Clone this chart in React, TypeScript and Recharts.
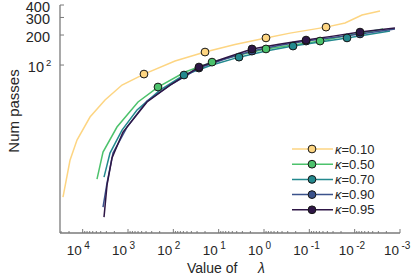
import { LineChart, Line, XAxis, YAxis } from "recharts";

// lambda values (x) and number of passes (y), per kappa
const lam10 = [27170, 19020, 13340, 6890, 3213, 1355, 444, 91.9, 20.0, 4.37, 0.904, 0.267, 0.0428, 0.0163, 0.00688, 0.00276];
const pas10 = [4.74, 11.1, 17.7, 30.1, 44.6, 63, 81.2, 109.7, 135, 160.6, 187, 209, 240, 264, 317, 348];
const mark10 = [6, 8, 10, 12];

const lam50 = [4830, 3557, 1750, 601, 218, 55.2, 14.0, 3.56, 0.904, 0.229, 0.058, 0.0127, 0.00236];
const pas50 = [7.19, 13.4, 23.9, 42.6, 60.2, 85.1, 107, 126, 145, 159, 174, 200, 230];
const mark50 = [4, 6, 8, 10];

const lam70 = [3382, 2495, 1355, 633, 197, 58.2, 14.0, 3.56, 0.904, 0.229, 0.058, 0.01475, 0.00166];
const pas70 = [7.53, 13.1, 22.3, 35.4, 56.1, 79.4, 100, 120, 138, 155, 170, 187, 219];
const mark70 = [5, 7, 9, 11];

const lam90 = [3557, 2904, 2143, 1052, 381, 118, 27.2, 7.24, 1.84, 0.467, 0.118, 0.03, 0.00762, 0.00129];
const pas90 = [3.76, 6.55, 13.1, 23.9, 43.5, 63.0, 93.3, 115, 138, 157, 174, 189, 205, 230];
const mark90 = [6, 8, 10, 12];

const lam95 = [3382, 2904, 2253, 1289, 381, 118, 27.2, 7.24, 1.84, 0.467, 0.118, 0.03, 0.00762, 0.00129];
const pas95 = [2.99, 6.25, 11.7, 21.3, 42.6, 63.0, 95.5, 117.5, 145, 162, 178, 195, 214, 235];
const mark95 = [6, 8, 10, 12];

const kappaLabels = ["0.10", "0.50", "0.70", "0.90", "0.95"];
const colors = ["#fdd582", "#4cc26c", "#23898e", "#3b528b", "#2e1646"];

const yTicks = [100, 200, 300, 400];
const xDecades = [-3, -2, -1, 0, 1, 2, 3, 4];

const xTicks: number[] = [];
xDecades.forEach((d) => {
  for (let k = 1; k <= 9; k++) {
    const v = k * Math.pow(10, d);
    if (v <= 31623) xTicks.push(v);
  }
});

const FONT = "'Liberation Sans', Arial, Helvetica, sans-serif";
const AXIS = "#7a7a7a";
const TEXT = "#262626";

const series = [
  { lam: lam10, pas: pas10, marks: mark10 },
  { lam: lam50, pas: pas50, marks: mark50 },
  { lam: lam70, pas: pas70, marks: mark70 },
  { lam: lam90, pas: pas90, marks: mark90 },
  { lam: lam95, pas: pas95, marks: mark95 },
].map((s, i) => ({
  color: colors[i],
  marks: s.marks,
  data: s.lam.map((x, j) => ({ x, y: s.pas[j] })),
}));

function XTick(props: any) {
  const { x, y, payload } = props;
  const e = Math.log10(payload.value);
  const major = Math.abs(e - Math.round(e)) < 1e-6;
  if (!major) {
    return <line x1={x} x2={x} y1={y} y2={y - 2} stroke={AXIS} strokeWidth={1} />;
  }
  return (
    <g fontFamily={FONT} fill={TEXT}>
      <line x1={x} x2={x} y1={y} y2={y - 4} stroke={AXIS} strokeWidth={1} />
      <text x={x - 1} y={y + 22} textAnchor="end" fontSize={13.5}>
        10
      </text>
      <text x={x + 1.5} y={y + 16} fontSize={10}>
        {Math.round(e)}
      </text>
    </g>
  );
}

function YTick(props: any) {
  const { x, y, payload } = props;
  const v = payload.value;
  return (
    <g fontFamily={FONT} fill={TEXT}>
      <line x1={x} x2={x + 4} y1={y} y2={y} stroke={AXIS} strokeWidth={1} />
      {v === 100 ? (
        <g>
          <text x={x - 16} y={y + 7} textAnchor="end" fontSize={14.5}>
            10
          </text>
          <text x={x - 14} y={y + 1} fontSize={9.5}>
            2
          </text>
        </g>
      ) : (
        <text x={x - 10} y={y + 7} textAnchor="end" fontSize={14.5}>
          {v}
        </text>
      )}
    </g>
  );
}

function dotFor(marks: number[], color: string) {
  return (props: any) => {
    const { cx, cy, index } = props;
    if (!marks.includes(index)) return <g key={`n${index}`} />;
    return <circle key={`d${index}`} cx={cx} cy={cy} r={3.9} fill={color} stroke="#151515" strokeWidth={1} />;
  };
}

export default function App() {
  return (
    <div style={{ position: "absolute", left: 0, top: 0, width: 415, height: 280, background: "#fff" }}>
      <LineChart width={415} height={280} margin={{ top: 5, right: 15, bottom: 0, left: 0 }}>
        <XAxis
          dataKey="x"
          type="number"
          scale="log"
          domain={[0.001, 31623]}
          allowDataOverflow
          reversed
          ticks={xTicks}
          interval={0}
          height={47}
          tickSize={0}
          tickMargin={0}
          tickLine={false}
          axisLine={{ stroke: AXIS, strokeWidth: 1.3 }}
          tick={<XTick />}
          label={{
            content: () => (
              <g fontFamily={FONT} fontSize={14} fill={TEXT}>
                <text x={187} y={273}>Value of</text>
                <text x={258} y={273} fontStyle="italic">
                  λ
                </text>
              </g>
            ),
          }}
        />
        <YAxis
          type="number"
          scale="log"
          domain={[2.07, 400]}
          allowDataOverflow
          ticks={yTicks}
          interval={0}
          width={60}
          tickSize={0}
          tickMargin={0}
          tickLine={false}
          axisLine={{ stroke: AXIS, strokeWidth: 1.3 }}
          tick={<YTick />}
          label={{
            content: () => (
              <text
                x={19}
                y={111}
                transform="rotate(-90, 19, 111)"
                textAnchor="middle"
                fontFamily={FONT}
                fontSize={15}
                fill={TEXT}
              >
                Num passes
              </text>
            ),
          }}
        />
        {series.map((s, i) => (
          <Line
            key={kappaLabels[i]}
            data={s.data}
            dataKey="y"
            type="linear"
            stroke={s.color}
            strokeWidth={1.5}
            dot={dotFor(s.marks, s.color)}
            activeDot={false}
            isAnimationActive={false}
          />
        ))}
      </LineChart>
      <svg
        width={120}
        height={80}
        style={{ position: "absolute", left: 288, top: 140 }}
        fontFamily={FONT}
      >
        {kappaLabels.map((k, i) => {
          const cy = 9 + i * 15.2;
          return (
            <g key={k}>
              <line x1={4} x2={45} y1={cy} y2={cy} stroke={colors[i]} strokeWidth={1.5} />
              <circle cx={24} cy={cy} r={3.9} fill={colors[i]} stroke="#151515" strokeWidth={1} />
              <text x={47} y={cy + 4.5} fontSize={13} fill={TEXT}>
                <tspan fontStyle="italic">κ</tspan>={k}
              </text>
            </g>
          );
        })}
      </svg>
    </div>
  );
}
